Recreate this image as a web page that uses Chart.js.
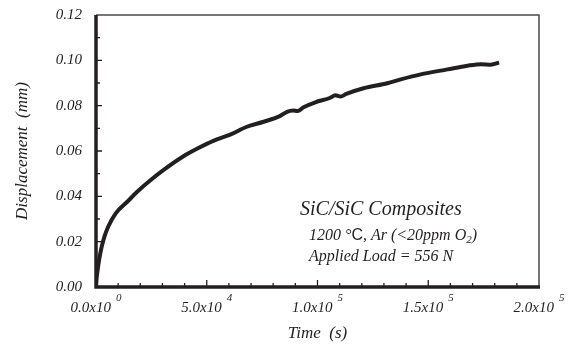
<!DOCTYPE html>
<html lang="en">
<head>
    <meta charset="UTF-8">
    <title>SiC/SiC Displacement vs Time</title>
    <style>
        body {
            margin: 0;
            padding: 0;
            background-color: #fff;
        }
        .chart-box {
            position: relative;
            width: 576px;
            height: 344px;
        }
    </style>
</head>
<body>
    <div class="chart-box">
        <canvas id="creepChart"></canvas>
    </div>

    <script src="https://cdn.jsdelivr.net/npm/chart.js"></script>
<script>
    // time (s) and displacement (mm)
    const timeValues = [0, 300, 800, 1500, 2500, 3800, 5500, 8900, 14100, 18600, 24700, 31000,
        39500, 46000, 53000, 60600, 68100, 75700, 83200, 86200, 89000, 91000, 93700,
        99000, 105800, 108000, 110400, 113000, 120800, 131500, 137600, 146600, 158700,
        167700, 173800, 178300, 182000];
    const displacementValues = [0, 0.004, 0.008, 0.0125, 0.0175, 0.0222, 0.0266, 0.0325, 0.0376,
        0.042, 0.0472, 0.052, 0.0577, 0.0612, 0.0645, 0.0672, 0.0707, 0.0729, 0.0755,
        0.0773, 0.0779, 0.0776, 0.0793, 0.0815, 0.0835, 0.0846, 0.0840, 0.0852, 0.0877,
        0.0899, 0.0916, 0.0938, 0.096, 0.0976, 0.0983, 0.0981, 0.099];

    // tick labels
    const yTicks = [0, 0.02, 0.04, 0.06, 0.08, 0.10, 0.12];
    const yTickLabels = ['0.00', '0.02', '0.04', '0.06', '0.08', '0.10', '0.12'];
    const xTicks = [0, 50000, 100000, 150000, 200000];
    const xTickMantissa = ['0.0x10', '5.0x10', '1.0x10', '1.5x10', '2.0x10'];
    const xTickExponent = ['0', '4', '5', '5', '5'];

    const ink = '#231f20';
    const serif = '"Liberation Serif", "Times New Roman", serif';

    // axes, inward ticks, labels and the note are drawn by hand
    const framePlugin = {
        id: 'frame',
        afterDraw(chart) {
            const ctx = chart.ctx;
            const area = chart.chartArea;
            const xs = chart.scales.x;
            const ys = chart.scales.y;
            ctx.save();

            // thin top / right
            ctx.strokeStyle = '#4a4a4a';
            ctx.lineWidth = 1.5;
            ctx.beginPath();
            ctx.moveTo(area.left, area.top);
            ctx.lineTo(area.right, area.top);
            ctx.lineTo(area.right, area.bottom);
            ctx.stroke();

            // thick left / bottom
            ctx.strokeStyle = ink;
            ctx.lineWidth = 3.5;
            ctx.beginPath();
            ctx.moveTo(area.left, area.top);
            ctx.lineTo(area.left, area.bottom);
            ctx.lineTo(area.right + 1, area.bottom);
            ctx.stroke();

            // minor + major ticks
            ctx.lineWidth = 1.3;
            ctx.beginPath();
            for (let i = 1; i < 12; i++) {
                const py = ys.getPixelForValue(i * 0.01);
                const len = i % 2 === 0 ? 6 : 4;
                ctx.moveTo(area.left, py);
                ctx.lineTo(area.left + len, py);
            }
            for (let i = 1; i < 20; i++) {
                const px = xs.getPixelForValue(i * 10000);
                const len = i % 5 === 0 ? 7 : 4;
                ctx.moveTo(px, area.bottom);
                ctx.lineTo(px, area.bottom - len);
            }
            ctx.stroke();

            ctx.fillStyle = ink;

            // y tick labels
            ctx.font = 'italic 15px ' + serif;
            ctx.textAlign = 'right';
            ctx.textBaseline = 'middle';
            yTicks.forEach((v, i) => {
                ctx.fillText(yTickLabels[i], area.left - 14, ys.getPixelForValue(v));
            });

            // x tick labels with exponents
            xTicks.forEach((v, i) => {
                const px = xs.getPixelForValue(v);
                ctx.font = 'italic 15px ' + serif;
                const w1 = ctx.measureText(xTickMantissa[i]).width;
                ctx.font = 'italic 11px ' + serif;
                const w2 = ctx.measureText(xTickExponent[i]).width;
                const gap = 5;
                const start = px - (w1 + gap + w2) / 2;
                ctx.textAlign = 'left';
                ctx.textBaseline = 'alphabetic';
                ctx.font = 'italic 15px ' + serif;
                ctx.fillText(xTickMantissa[i], start, area.bottom + 25);
                ctx.font = 'italic 11px ' + serif;
                ctx.fillText(xTickExponent[i], start + w1 + gap, area.bottom + 14);
            });

            // axis titles
            ctx.font = 'italic 17px ' + serif;
            ctx.textAlign = 'center';
            ctx.fillText('Time  (s)', (area.left + area.right) / 2, 338);
            ctx.save();
            ctx.translate(27, (area.top + area.bottom) / 2);
            ctx.rotate(-Math.PI / 2);
            ctx.fillText('Displacement  (mm)', 0, 0);
            ctx.restore();

            // note
            ctx.textAlign = 'left';
            ctx.font = 'italic 20px ' + serif;
            ctx.fillText('SiC/SiC Composites', 300, 215);

            ctx.font = 'italic 16px ' + serif;
            let x = 309;
            const seg = (txt, font, dy) => {
                ctx.font = font;
                ctx.fillText(txt, x, 240 + (dy || 0));
                x += ctx.measureText(txt).width;
            };
            seg('1200 \u00B0', 'italic 16px ' + serif);
            seg('C', '16px "Liberation Sans", Arial, sans-serif');
            seg(', Ar (<20ppm O', 'italic 16px ' + serif);
            seg('2', 'italic 11px ' + serif, 3);
            seg(')', 'italic 16px ' + serif);

            ctx.font = 'italic 16px ' + serif;
            ctx.fillText('Applied Load = 556 N', 309, 261);

            ctx.restore();
        }
    };

    const points = timeValues.map((t, i) => ({ x: t, y: displacementValues[i] }));

    new Chart(document.getElementById('creepChart'), {
        type: 'scatter',
        data: {
            datasets: [{
                data: points,
                showLine: true,
                borderColor: ink,
                borderWidth: 4,
                pointRadius: 0,
                cubicInterpolationMode: 'monotone',
                fill: false
            }]
        },
        options: {
            responsive: true,
            maintainAspectRatio: false,
            animation: false,
            layout: {
                padding: { left: 96, right: 37, top: 15, bottom: 57 }
            },
            plugins: {
                legend: { display: false },
                tooltip: { enabled: false }
            },
            scales: {
                x: {
                    type: 'linear',
                    display: false,
                    min: 0,
                    max: 200000
                },
                y: {
                    display: false,
                    min: 0,
                    max: 0.12
                }
            }
        },
        plugins: [framePlugin]
    });
</script>
</body>
</html>
